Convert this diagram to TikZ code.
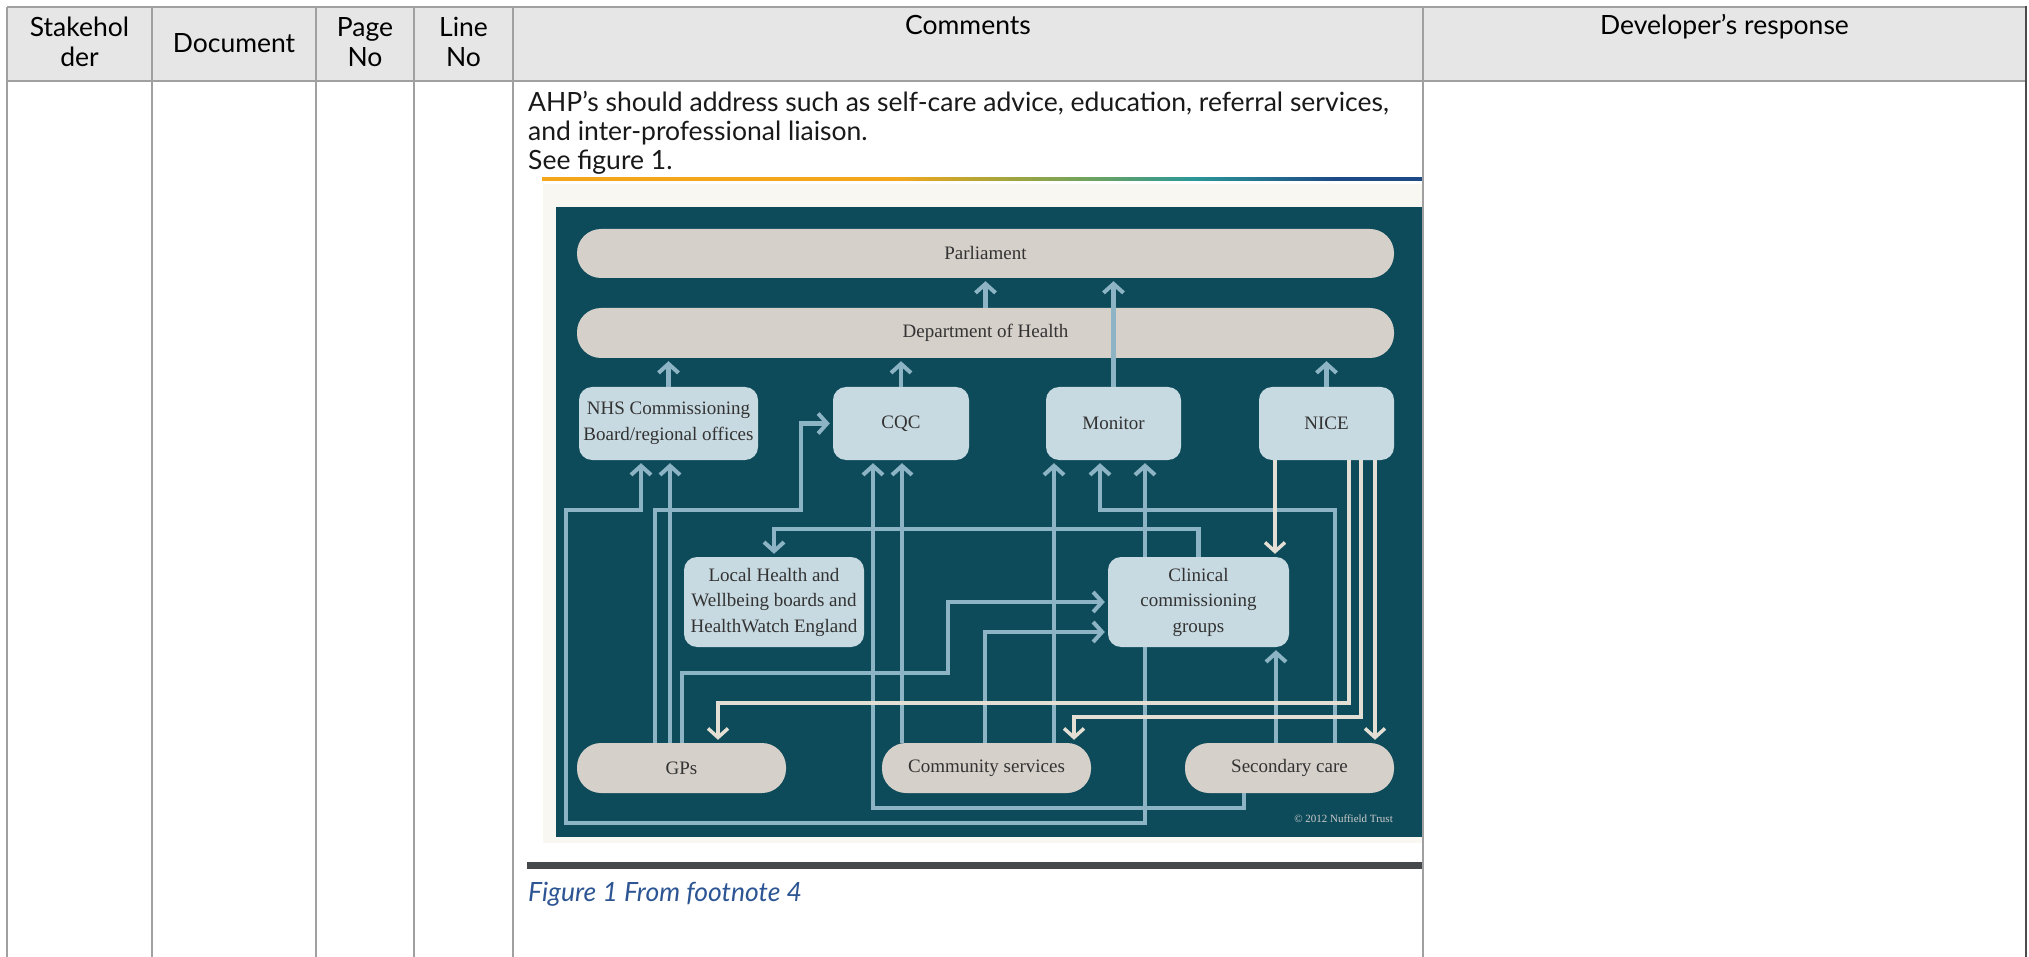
\documentclass[tikz,border=0pt]{standalone}
\usepackage{fontspec}
\setmainfont{Lato}
\newfontfamily\dfont{Liberation Serif}
\usetikzlibrary{arrows.meta}
\definecolor{hdr}{HTML}{E6E6E6}
\definecolor{gridc}{HTML}{A0A0A0}
\definecolor{panel}{HTML}{0E4B5A}
\definecolor{pill}{HTML}{D5D0C9}
\definecolor{boxc}{HTML}{C8DAE1}
\definecolor{lblue}{HTML}{8DB4C4}
\definecolor{cream}{HTML}{E4DFD4}
\definecolor{capblue}{HTML}{2D5593}
\definecolor{offw}{HTML}{F8F7F2}
\definecolor{darkbar}{HTML}{46494C}
\definecolor{dtext}{HTML}{333333}
\definecolor{gOr}{HTML}{F4A71D}
\definecolor{gOl}{HTML}{B4A534}
\definecolor{gGr}{HTML}{6FA35E}
\definecolor{gTe}{HTML}{2B9797}
\definecolor{gBl}{HTML}{1D4A86}
\pgfdeclarehorizontalshading{topgrad}{100bp}{color(0bp)=(gOr); color(45bp)=(gOr); color(50bp)=(gOl); color(56bp)=(gGr); color(62bp)=(gTe); color(70bp)=(gBl); color(100bp)=(gBl)}
\tikzset{
  hdrtxt/.style={font=\fontsize{26.5}{31}\selectfont, inner sep=0pt, anchor=base},
  bodytxt/.style={font=\fontsize{26.5}{31}\selectfont, inner sep=0pt, anchor=base west, text=black!90},
  pillnode/.style={fill=pill, rounded corners=24pt, inner sep=0pt, font=\dfont\fontsize{19}{22}\selectfont, text=dtext},
  boxnode/.style={fill=boxc, rounded corners=13pt, inner sep=0pt, align=center, font=\dfont\fontsize{19}{25.5}\selectfont, text=dtext},
  blink/.style={draw=lblue, line width=4.5pt},
  barrow/.style={blink, shorten >=3pt, -{Straight Barb[length=9pt, width=20pt, line width=4pt]}},
  clink/.style={draw=cream, line width=3.5pt},
  carrow/.style={clink, shorten >=3pt, -{Straight Barb[length=9pt, width=20pt, line width=3.5pt]}},
}
\begin{document}
\begin{tikzpicture}[x=1pt, y=-1pt]
\useasboundingbox (0,0) rectangle (2029,957);
\fill[white] (0,0) rectangle (2029,957);
% header
\fill[hdr] (7,7) rectangle (2026,81);
\node[hdrtxt] (h1a) at (79.5,37) {Stakehol};
\node[hdrtxt] (h1b) at (79.5,67) {der};
\node[hdrtxt] (h2) at (234,53) {Document};
\node[hdrtxt] (h3a) at (365,37) {Page};
\node[hdrtxt] (h3b) at (365,67) {No};
\node[hdrtxt] (h4a) at (463.5,37) {Line};
\node[hdrtxt] (h4b) at (463.5,67) {No};
\node[hdrtxt] (h5) at (968,35) {Comments};
\node[hdrtxt] (h6) at (1724.5,35) {Developer’s response};
% body text
\node[bodytxt] (t1) at (528,112) {AHP’s should address such as self-care advice, education, referral services,};
\node[bodytxt] (t2) at (528,141) {and inter-professional liaison.};
\node[bodytxt] (t3) at (528,170) {See figure 1.};
% figure frame
\shade[shading=topgrad] (542,177.5) rectangle (1422,180.5);
\fill[offw] (543,184) rectangle (1422,843);
\fill[panel] (556,207) rectangle (1422,837);
\fill[darkbar] (527,862) rectangle (1422,869);
\node[font=\fontsize{26.5}{31}\selectfont\itshape, text=capblue, inner sep=0pt, anchor=base west] (cap) at (528,901) {Figure 1 From footnote 4};
% diagram nodes
\node[pillnode, minimum width=817pt, minimum height=49pt] (parl) at (985.5,253.5) {Parliament};
\node[pillnode, minimum width=817pt, minimum height=50pt] (doh) at (985.5,333) {Department of Health};
\node[boxnode, minimum width=179pt, minimum height=73pt] (nhs) at (668.5,423.5) {NHS Commissioning\\Board/regional offices};
\node[boxnode, minimum width=136pt, minimum height=73pt] (cqc) at (901,423.5) {CQC};
\node[boxnode, minimum width=135pt, minimum height=73pt] (mon) at (1113.5,423.5) {Monitor};
\node[boxnode, minimum width=135pt, minimum height=73pt] (nice) at (1326.5,423.5) {NICE};
\node[boxnode, minimum width=180pt, minimum height=90pt] (loc) at (774,602) {Local Health and\\Wellbeing boards and\\HealthWatch England};
\node[boxnode, minimum width=181pt, minimum height=90pt] (clin) at (1198.5,602) {Clinical\\commissioning\\groups};
\node[pillnode, minimum width=209pt, minimum height=50pt] (gps) at (681.5,768) {GPs};
\node[pillnode, minimum width=209pt, minimum height=50pt] (com) at (986.5,768) {Community services};
\node[pillnode, minimum width=209pt, minimum height=50pt] (sec) at (1289.5,768) {Secondary care};
\node[font=\dfont\fontsize{11}{13}\selectfont, text=gray!40, inner sep=0pt, anchor=base east] (copy) at (1393,822) {© 2012 Nuffield Trust};
% blue connectors
\draw[barrow] (doh.north) -- (parl.south);
\draw[barrow] (mon.north) -- (mon.north |- parl.south);
\draw[barrow] (nhs.north) -- (nhs.north |- doh.south);
\draw[barrow] (cqc.north) -- (cqc.north |- doh.south);
\draw[barrow] (nice.north) -- (nice.north |- doh.south);
\draw[barrow] (gps.north -| 670,0) -- (nhs.south -| 670,0);
\draw[barrow] (gps.north -| 655,0) |- (801,510) |- (cqc.west);
\draw[barrow] (gps.north -| 682,0) |- (948,673) |- (clin.west);
\draw[barrow] (com.north -| 985,0) |- ([yshift=-30pt]clin.west);
\draw[barrow] (com.north -| 902,0) -- (cqc.south -| 902,0);
\draw[barrow] (com.north -| 1054,0) -- (mon.south -| 1054,0);
\draw[barrow] (clin.north -| 1145,0) -- (mon.south -| 1145,0);
\draw[barrow] (clin.north) |- (774,529) -- (loc.north);
\draw[barrow] (clin.south -| 1145,0) |- (566,823) |- (641,510) -- (nhs.south -| 641,0);
\draw[barrow] (sec.south -| 1244,0) |- (873,808) -- (cqc.south -| 873,0);
\draw[barrow] (sec.north -| 1335,0) |- (1100,510) -- (mon.south -| 1100,0);
\draw[barrow] (sec.north -| 1276,0) -- (clin.south -| 1276,0);
% cream connectors
\draw[carrow] (nice.south -| 1275,0) -- (clin.north -| 1275,0);
\draw[carrow] (nice.south -| 1349,0) |- (718,703) -- (gps.north -| 718,0);
\draw[carrow] (nice.south -| 1361,0) |- (1074,717) -- (com.north -| 1074,0);
\draw[carrow] (nice.south -| 1375,0) -- (sec.north -| 1375,0);
% table grid
\draw[gridc, line width=2pt] (7,7) -- (2026,7);
\draw[gridc, line width=2pt] (7,81) -- (2026,81);
\foreach \xx in {7,152,316,414,513,1423} {\draw[gridc, line width=2pt] (\xx,7) -- (\xx,957);}
\draw[black!70, line width=2.5pt] (2026,6) -- (2026,957);
\end{tikzpicture}
\end{document}
